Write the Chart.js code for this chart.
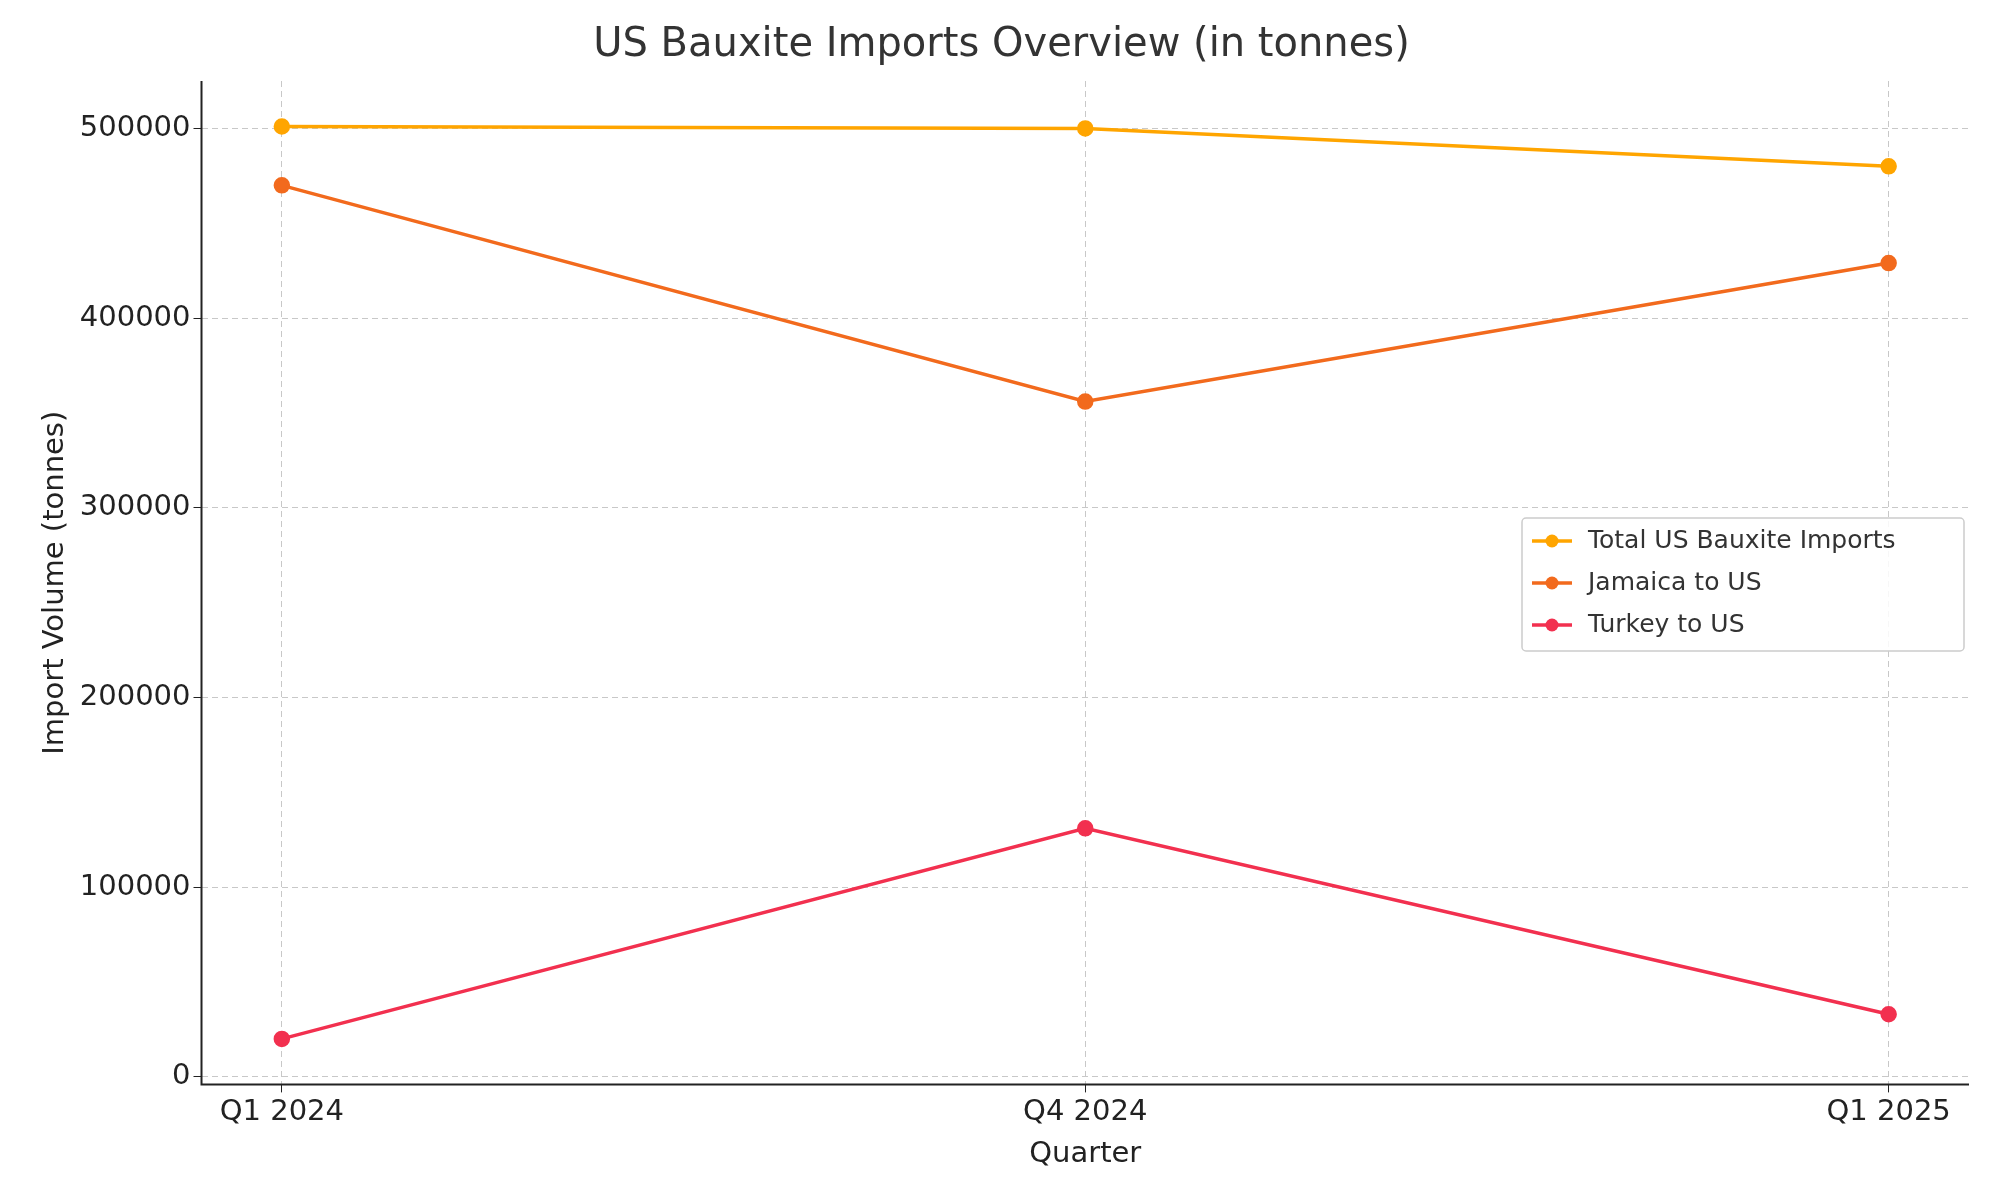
<!DOCTYPE html>
<html><head><meta charset="utf-8">
<script src="https://cdn.jsdelivr.net/npm/chart.js@4"></script>
<style>html,body{margin:0;background:#fff}#w{width:2000px;height:1200px}</style>
</head><body><div id="w"><canvas id="c"></canvas></div>
<script>
const categories=["Q1 2024","Q4 2024","Q1 2025"];
const totalImports=[501000,500000,480000];
const jamaica=[470000,356000,429000];
const turkey=[20000,131000,33000];
const yTicks=[0,100000,200000,300000,400000,500000];
const colors=["#FFA500","#F26A1D","#F2304F"];
const names=["Total US Bauxite Imports","Jamaica to US","Turkey to US"];
const series=[totalImports,jamaica,turkey];
const F="DejaVu Sans";
const legendPlugin={id:'lg',afterDraw(ch){const c=ch.ctx;const a=ch.chartArea;
c.save();c.strokeStyle='#222';c.lineWidth=2;c.beginPath();c.moveTo(a.left,a.top);c.lineTo(a.left,a.bottom);c.lineTo(a.right,a.bottom);c.stroke();
const x=1522,y=518,w=442,h=133;
c.fillStyle='rgba(255,255,255,0.85)';c.strokeStyle='#cccccc';c.lineWidth=1.5;
c.beginPath();c.roundRect(x,y,w,h,4);c.fill();c.stroke();
c.font='25px "'+F+'"';c.textBaseline='middle';
names.forEach((n,i)=>{const yy=y+23+i*42;c.strokeStyle=colors[i];c.lineWidth=3.5;c.beginPath();c.moveTo(x+10,yy);c.lineTo(x+50,yy);c.stroke();
c.fillStyle=colors[i];c.beginPath();c.arc(x+30,yy,6.5,0,7);c.fill();c.fillStyle='#333';c.fillText(n,x+66,yy);});c.restore();}};
new Chart(document.getElementById('c'),{type:'line',
data:{datasets:series.map((s,i)=>({label:names[i],data:s.map((v,j)=>({x:j,y:v})),borderColor:colors[i],backgroundColor:colors[i],borderWidth:3.5,pointRadius:6.5,pointHoverRadius:6.5}))},
options:{responsive:true,maintainAspectRatio:false,animation:false,
layout:{padding:{left:34,right:31,top:0,bottom:24}},
plugins:{legend:{display:false},tooltip:{enabled:false},title:{display:true,text:'US Bauxite Imports Overview (in tonnes)',color:'#333',font:{family:F,size:40,weight:'normal'},padding:{top:22,bottom:11}}},
scales:{x:{type:'linear',min:-0.1,max:2.1,afterBuildTicks(a){a.ticks=[0,1,2].map(v=>({value:v}))},
ticks:{callback:v=>categories[v],color:'#222',font:{family:F,size:29},maxRotation:0,autoSkip:false},
grid:{color:'#c8c8c8',tickColor:'#222',tickLength:8},border:{display:false,dash:[6,4]},
title:{display:true,text:'Quarter',color:'#222',font:{family:F,size:29}}},
y:{min:-4000,max:525000,afterBuildTicks(a){a.ticks=yTicks.map(v=>({value:v}))},
ticks:{callback:v=>String(v),color:'#222',font:{family:F,size:29}},
grid:{color:'#c8c8c8',tickColor:'#222',tickLength:8},border:{display:false,dash:[6,4]},
title:{display:true,text:'Import Volume (tonnes)',color:'#222',font:{family:F,size:29}}}}},
plugins:[legendPlugin]});
</script></body></html>
